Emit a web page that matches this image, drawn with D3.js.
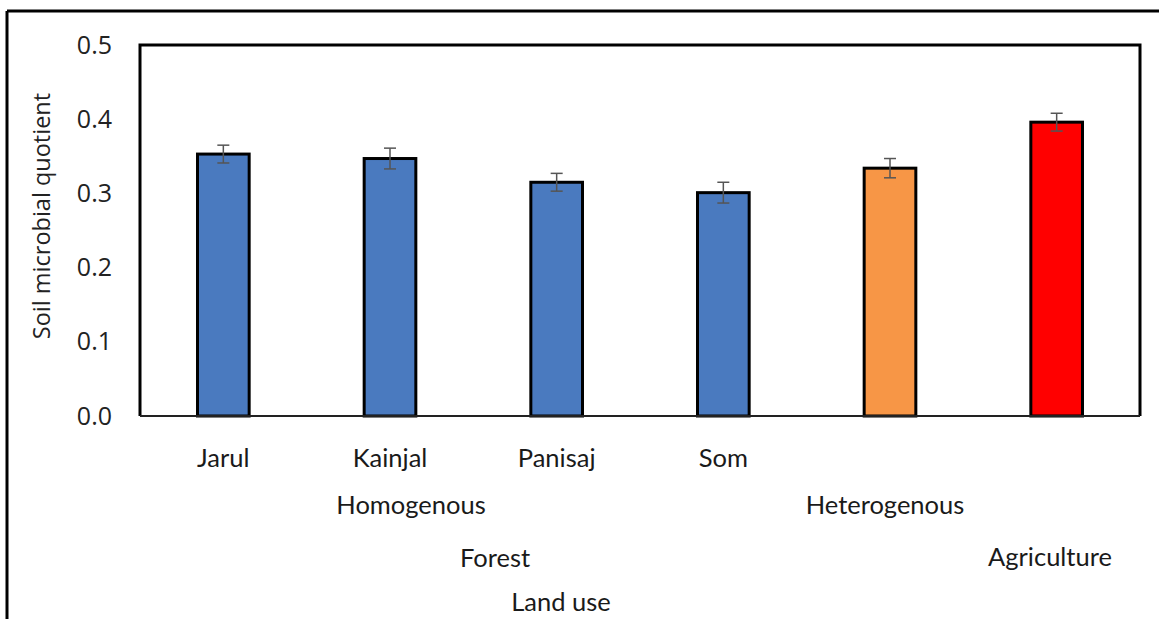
<!DOCTYPE html>
<html><head><meta charset="utf-8">
<script src="https://cdn.jsdelivr.net/npm/d3@7"></script>
<style>body{margin:0;background:#fff}svg{display:block}</style>
</head><body>
<script>
const categories = ["Jarul","Kainjal","Panisaj","Som","Heterogenous","Agriculture"];
const values = [0.353, 0.347, 0.315, 0.301, 0.334, 0.396];
const errors = [0.012, 0.014, 0.012, 0.014, 0.013, 0.012];
const colors = ["#4a7abf","#4a7abf","#4a7abf","#4a7abf","#f79646","#ff0000"];
const tickValues = [0, 0.1, 0.2, 0.3, 0.4, 0.5];
const barLabels = ["Jarul","Kainjal","Panisaj","Som","",""];
const groupLabels = ["Homogenous","Heterogenous","Forest","Agriculture","Land use"];

const W = 1159, H = 619;
const m = {left:140, right:1140, top:45, bottom:416};
const svg = d3.select("body").append("svg").attr("width",W).attr("height",H);

// outer frame
svg.append("line").attr("x1",7).attr("x2",W).attr("y1",11).attr("y2",11).attr("stroke","#000").attr("stroke-width",3);
svg.append("line").attr("x1",7).attr("x2",7).attr("y1",11).attr("y2",H).attr("stroke","#000").attr("stroke-width",3);

const x = d3.scaleBand().domain(categories).range([m.left,m.right]).paddingInner(0.69).paddingOuter(0.345);
const y = d3.scaleLinear().domain([0,0.5]).range([m.bottom,m.top]);

// plot frame
svg.append("path").attr("d",`M${m.left},${m.bottom}V${m.top}H${m.right}V${m.bottom}`)
  .attr("fill","none").attr("stroke","#000").attr("stroke-width",3);

// y axis
const ya = svg.append("g").attr("transform",`translate(${m.left},0)`)
  .call(d3.axisLeft(y).tickValues(tickValues).tickFormat(d3.format(".1f")).tickSize(0).tickPadding(28));
ya.select(".domain").remove();
ya.selectAll("text").attr("font-family","Open Sans").attr("font-size",25).attr("fill","#222");

// bars
svg.append("g").selectAll("rect").data(categories).join("rect")
  .attr("x",d=>x(d)).attr("width",x.bandwidth())
  .attr("y",(d,i)=>y(values[i])).attr("height",(d,i)=>y(0)-y(values[i]))
  .attr("fill",(d,i)=>colors[i]).attr("stroke","#000").attr("stroke-width",3);

// error bars
const eg = svg.append("g").attr("stroke","#555").attr("stroke-width",1.5);
categories.forEach((c,i)=>{
  const cx = x(c)+x.bandwidth()/2;
  eg.append("line").attr("x1",cx).attr("x2",cx).attr("y1",y(values[i]+errors[i])).attr("y2",y(values[i]-errors[i]));
  eg.append("line").attr("x1",cx-6).attr("x2",cx+6).attr("y1",y(values[i]+errors[i])).attr("y2",y(values[i]+errors[i]));
  eg.append("line").attr("x1",cx-6).attr("x2",cx+6).attr("y1",y(values[i]-errors[i])).attr("y2",y(values[i]-errors[i]));
});

// x axis line
svg.append("line").attr("x1",m.left).attr("x2",m.right).attr("y1",m.bottom).attr("y2",m.bottom).attr("stroke","#222").attr("stroke-width",2);

// category labels
const xa = svg.append("g").attr("transform",`translate(0,${m.bottom})`)
  .call(d3.axisBottom(x).tickSize(0).tickPadding(33).tickFormat((d,i)=>barLabels[i]));
xa.select(".domain").remove();
xa.selectAll("text").attr("font-family","Lato").attr("font-size",25.5).attr("fill","#1a1a1a");

// group labels (hierarchical axis)
const gx = [411, 885, 495, 1050, 561];
const gy = [514, 514, 567, 566, 611];
svg.append("g").selectAll("text").data(groupLabels).join("text")
  .attr("x",(d,i)=>gx[i]).attr("y",(d,i)=>gy[i])
  .attr("text-anchor","middle").attr("font-family","Lato").attr("font-size",25.5).attr("fill","#1a1a1a")
  .text(d=>d);

// y title
svg.append("text").attr("transform","translate(50,216) rotate(-90)").attr("text-anchor","middle")
  .attr("font-family","Open Sans").attr("font-size",23.5).attr("fill","#222").text("Soil microbial quotient");
</script>
</body></html>
